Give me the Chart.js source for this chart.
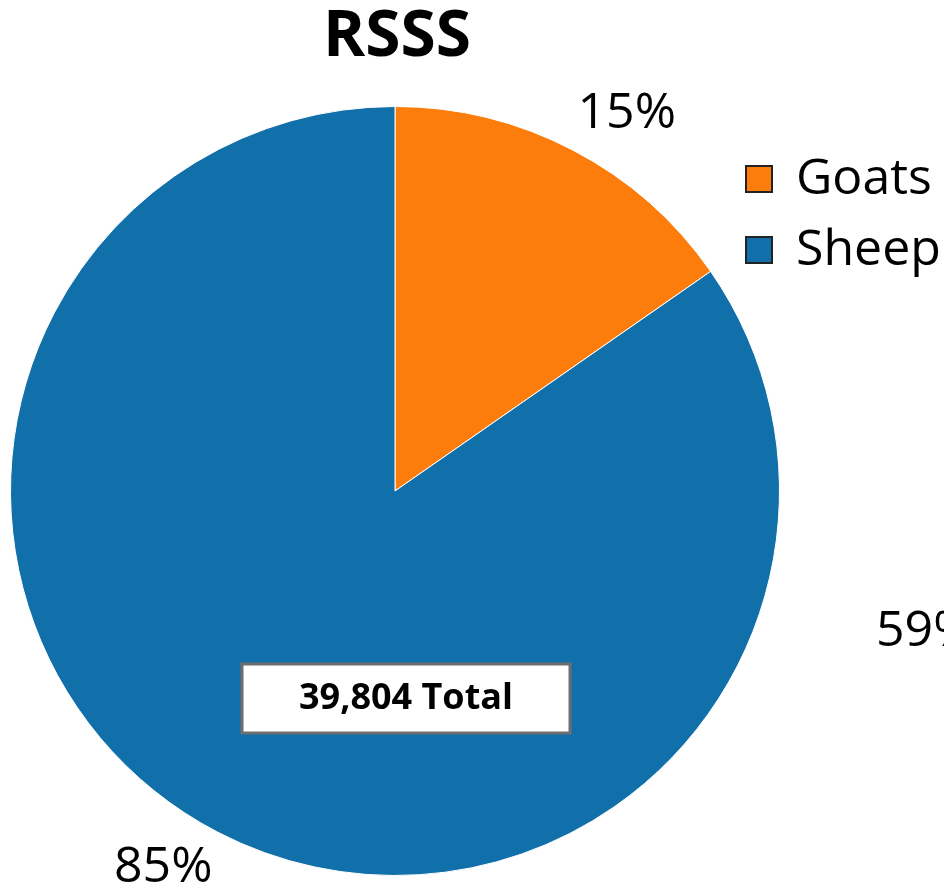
<!DOCTYPE html>
<html>
<head>
<meta charset="utf-8">
<script src="https://cdn.jsdelivr.net/npm/chart.js@4.4.1/dist/chart.umd.min.js"></script>
<style>
  html, body { margin: 0; padding: 0; background: #ffffff; }
  #wrap { width: 944px; height: 892px; }
</style>
</head>
<body>
<div id="wrap"><canvas id="pie-chart"></canvas></div>
<script>
var categories = ["Goats", "Sheep"];
var herdCounts = [6100, 33704];
var sliceColors = ["#FC7D0B", "#1170AA"];
var chartTitle = "RSSS";
var totalText = "39,804 Total";
var strayLabel = "59%";

var FONT = "'Open Sans', 'Noto Sans', sans-serif";

// draws title, percent labels, legend and the total box
var overlay = {
	id: "overlay",
	afterDraw: function (chart) {
		var ctx = chart.ctx;
		var meta = chart.getDatasetMeta(0);
		var sum = herdCounts.reduce(function (a, b) { return a + b; }, 0);
		ctx.save();

		ctx.fillStyle = "#000";
		ctx.textAlign = "center";
		ctx.textBaseline = "middle";
		ctx.font = "bold 64px " + FONT;
		ctx.fillText(chartTitle, 397, 38);

		// percent labels just outside each slice
		ctx.font = "50px " + FONT;
		meta.data.forEach(function (arc, i) {
			var p = arc.getProps(["x", "y", "startAngle", "endAngle", "outerRadius"], true);
			var mid = (p.startAngle + p.endAngle) / 2 + 4 * Math.PI / 180;
			var r = p.outerRadius + 58;
			var pct = Math.round(herdCounts[i] / sum * 100) + "%";
			ctx.fillText(pct, p.x + r * Math.cos(mid), p.y + r * Math.sin(mid));
		});

		ctx.textAlign = "left";
		ctx.fillText(strayLabel, 876, 632);

		// legend
		for (var i = 0; i < categories.length; i++) {
			var y = 166 + i * 71;
			ctx.fillStyle = sliceColors[i];
			ctx.fillRect(746, y, 26, 26);
			ctx.strokeStyle = "#222";
			ctx.lineWidth = 2;
			ctx.strokeRect(746, y, 26, 26);
			ctx.fillStyle = "#000";
			ctx.fillText(categories[i], 796, y + 14);
		}

		// total box
		ctx.fillStyle = "#fff";
		ctx.fillRect(242, 664, 328, 69);
		ctx.strokeStyle = "#6e6e6e";
		ctx.lineWidth = 3;
		ctx.strokeRect(242, 664, 328, 69);
		ctx.fillStyle = "#000";
		ctx.textAlign = "center";
		ctx.font = "bold 36px " + FONT;
		ctx.fillText(totalText, 406, 699);

		ctx.restore();
	}
};

var ctx = document.getElementById("pie-chart");

var chart = new Chart(ctx, {
	type: "pie",
	data: {
		labels: categories,
		datasets: [
			{
				data: herdCounts,
				backgroundColor: sliceColors,
				borderColor: "#ffffff",
				borderWidth: 1
			}
		]
	},
	options: {
		responsive: true,
		maintainAspectRatio: false,
		animation: false,
		layout: {
			padding: { left: 10, right: 164, top: 106, bottom: 16 }
		},
		plugins: {
			legend: { display: false },
			title: { display: false },
			tooltip: { enabled: false }
		}
	},
	plugins: [overlay]
});
</script>
</body>
</html>
